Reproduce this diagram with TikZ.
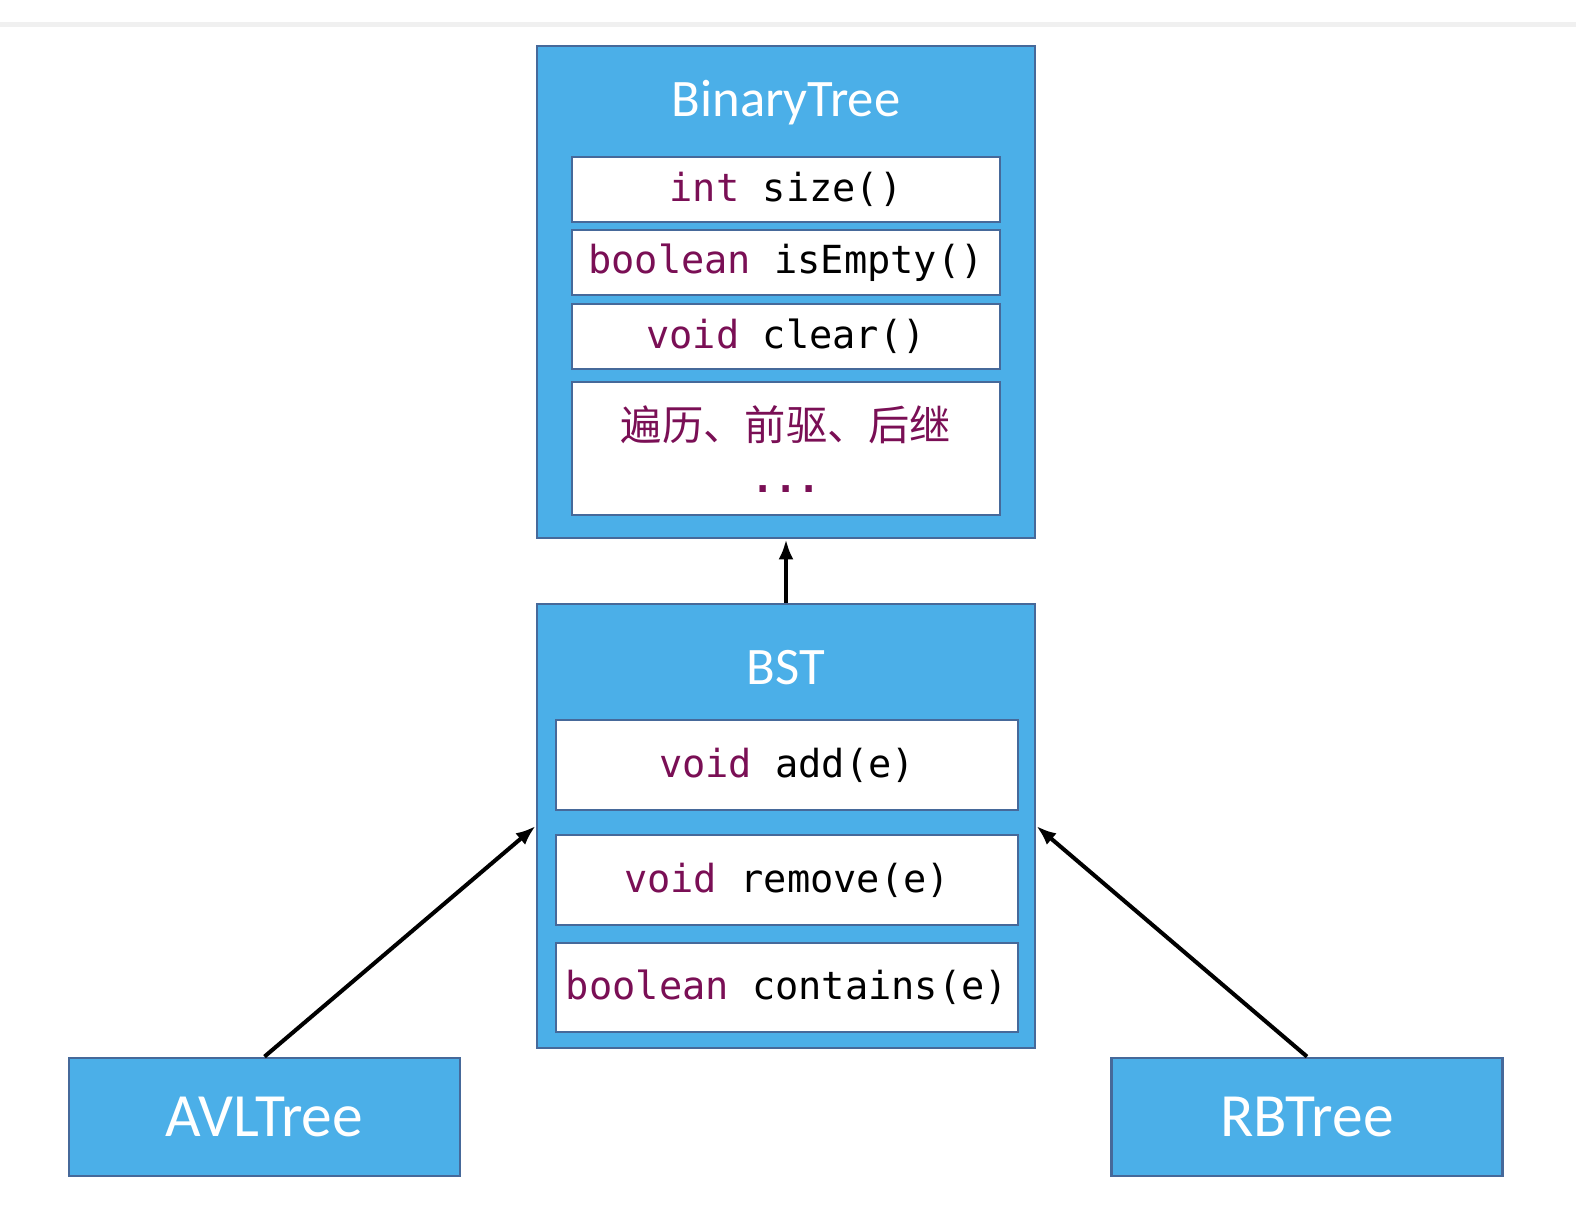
\documentclass[tikz,border=0pt]{standalone}
\usepackage{fontspec}
\setsansfont{Carlito}
\setmonofont{DejaVu Sans Mono}
\newfontfamily\cjk{Noto Sans CJK SC}
\usetikzlibrary{positioning, arrows.meta}

\definecolor{boxblue}{HTML}{4BAFE8}
\definecolor{boxline}{HTML}{46699A}
\definecolor{kw}{HTML}{7A0F55}

\tikzset{
	classbox/.style={draw=boxline, fill=boxblue, line width=1.6pt},
	methodbox/.style={draw=boxline, fill=white, line width=1.6pt, minimum height=1.3cm,
		font=\ttfamily\fontsize{22}{24}\selectfont},
	classname/.style={text=white, font=\sffamily\fontsize{30}{33}\selectfont},
	inherit/.style={->, >={Latex[length=0.4cm, width=0.3cm]}, line width=2.3pt}
}

\begin{document}
\begin{tikzpicture}[x=0.02cm, y=-0.02cm]
	\useasboundingbox[fill=white] (0,0) rectangle (1576,1206);
	\draw[black!6, line width=0.1cm] (0,24.5) -- (1576,24.5);
	
	% BinaryTree
	\node[classbox, minimum width=9.96cm, minimum height=9.84cm] (BT) at (786,292) {};
	\node[classname] (BTname) at (786,103) {BinaryTree};
	\node[methodbox, minimum width=8.56cm] (size) at (786,189.5) {{\color{kw}int} size()};
	\node[methodbox, minimum width=8.56cm] (isEmpty) at (786,262.5) {{\color{kw}boolean} isEmpty()};
	\node[methodbox, minimum width=8.56cm] (clear) at (786,336.5) {{\color{kw}void} clear()};
	\node[methodbox, minimum width=8.56cm, minimum height=2.66cm] (more) at (786,448.5) {};
	\node[text=kw, font=\cjk\fontsize{23.5}{26}\selectfont] (moretext) at (786,425) {遍历、前驱、后继};
	\node[text=kw, font=\ttfamily\bfseries\fontsize{22}{24}\selectfont, anchor=base] (dots) at (786,492) {...};
	
	% BST
	\node[classbox, minimum width=9.96cm, minimum height=8.88cm] (BST) at (786,826) {};
	\node[classname] (BSTname) at (786,668) {BST};
	\node[methodbox, minimum width=9.24cm, minimum height=1.8cm] (add) at (787,765) {{\color{kw}void} add(e)};
	\node[methodbox, minimum width=9.24cm, minimum height=1.8cm] (remove) at (787,880) {{\color{kw}void} remove(e)};
	\node[methodbox, minimum width=9.24cm, minimum height=1.78cm] (contains) at (787,987.5) {{\color{kw}boolean} contains(e)};
	
	% subclasses
	\node[classbox, classname, minimum width=7.82cm, minimum height=2.36cm, font=\sffamily\fontsize{35}{38}\selectfont] (AVL) at (264.5,1117) {AVLTree};
	\node[classbox, classname, minimum width=7.82cm, minimum height=2.36cm, font=\sffamily\fontsize{35}{38}\selectfont] (RB) at (1307,1117) {RBTree};
	
	\draw[inherit] (BST.north) -- (BT.south);
	\draw[inherit] (AVL.north) -- (BST.west);
	\draw[inherit] (RB.north) -- (BST.east);
\end{tikzpicture}
\end{document}
